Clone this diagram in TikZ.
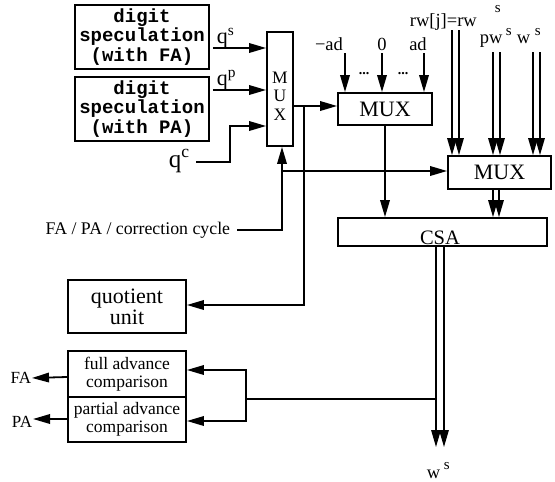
\documentclass[tikz,border=0pt]{standalone}
\usepackage{fontspec}
\setmainfont{Liberation Serif}
\newfontfamily\monof{Liberation Mono}
\usetikzlibrary{arrows.meta}
\begin{document}
\begin{tikzpicture}[x=1pt,y=-1pt,line width=1.8pt,
  arr/.style={-{Triangle[length=17pt,width=9.5pt]}},
  darr/.style={line width=1.5pt,-{Triangle[length=17pt,width=9.5pt]}},
  blk/.style={draw,line width=1.8pt,inner sep=0pt,align=center},
  dsbox/.style={blk,minimum width=134pt,minimum height=64pt,
     font=\monof\bfseries\fontsize{19}{19.5}\selectfont},
  muxbox/.style={blk,font=\fontsize{22}{22}\selectfont},
  lbl/.style={inner sep=0pt,font=\fontsize{18.5}{18.5}\selectfont},
  sup/.style={inner sep=0pt,anchor=base west,font=\fontsize{15}{15}\selectfont},
  cmpbox/.style={blk,minimum width=118pt,minimum height=46pt,
     font=\fontsize{17.5}{18}\selectfont}
]
\useasboundingbox (0,0) rectangle (555,482);
% blocks
\node[dsbox] (ds1) at (142,37) {digit\\speculation\\(with FA)};
\node[dsbox] (ds2) at (142,109) {digit\\speculation\\(with PA)};
\node[blk,minimum width=26pt,minimum height=114pt] (mux1) at (280,89) {};
\node[lbl,align=center,font=\fontsize{17.5}{18.5}\selectfont] (muxt) at (280,96) {M\\U\\X};
\node[muxbox,minimum width=94pt,minimum height=32pt] (mux2) at (385,109) {MUX};
\node[muxbox,minimum width=103pt,minimum height=33pt] (mux3) at (499.5,172.5) {MUX};
\node[blk,minimum width=209pt,minimum height=28pt] (csa) at (442.5,232) {};
\node[lbl,anchor=base,font=\fontsize{20.5}{20.5}\selectfont] (csat) at (440,244) {CSA};
\node[blk,minimum width=118pt,minimum height=53pt,font=\fontsize{22}{21}\selectfont] (qu) at (127,306.5) {quotient\\unit};
\node[cmpbox] (fa) at (127,374) {full advance\\comparison};
\node[cmpbox,minimum height=45pt] (pa) at (127,419.5) {partial advance\\comparison};
% labels
\node[lbl,anchor=base west,font=\fontsize{22}{22}\selectfont] (lqs) at (216,43) {q\textsuperscript{s}};
\node[lbl,anchor=base west,font=\fontsize{22}{22}\selectfont] (lqp) at (216,85) {q\textsuperscript{p}};
\node[lbl,anchor=base west,font=\fontsize{25}{25}\selectfont] (lqc) at (168,167) {q\textsuperscript{c}};
\node[lbl,anchor=east,font=\fontsize{17.8}{17.8}\selectfont] (lctl) at (231,230) {FA / PA / correction cycle};
\node[lbl,anchor=base] (lmad) at (329,50) {−ad};
\node[lbl,anchor=base] (lzero) at (382,50) {0};
\node[lbl,anchor=base] (lad) at (418,50) {ad};
\node[lbl,font=\bfseries\fontsize{14}{14}\selectfont] (dots1) at (364,74) {...};
\node[lbl,font=\bfseries\fontsize{14}{14}\selectfont] (dots2) at (403,74) {...};
\node[lbl,anchor=base west] (lrw) at (409,26) {rw[j]=rw};
\node[sup] (lrws) at (494,12) {s};
\node[lbl,anchor=base west] (lpw) at (479,43) {pw};
\node[sup] (lpws) at (505,35) {s};
\node[lbl,anchor=base west] (lw) at (516,43) {w};
\node[sup] (lws) at (534,35) {s};
\node[lbl,anchor=base west] (lwo) at (426,478) {w};
\node[sup] (lwos) at (443,469) {s};
\node[lbl,anchor=east,font=\fontsize{17}{17}\selectfont] (lfa) at (32,378) {FA};
\node[lbl,anchor=east,font=\fontsize{17}{17}\selectfont] (lpa) at (33,422) {PA};
% free ends
\coordinate (qcS) at (196,162);
\coordinate (ctlS) at (237,230);
\coordinate (fork) at (304,106);
\coordinate (fb) at (246,399);
% connectors into MUX1
\draw[arr] ([xshift=3pt]ds1.east |- 0,48) -- (mux1.west |- 0,48);
\draw[arr] ([xshift=3pt]ds2.east |- 0,90) -- (mux1.west |- 0,90);
\draw[arr] (qcS) -| (230,126) -- (mux1.west |- 0,126);
\draw[arr] (ctlS) -| ([xshift=2pt]mux1.south);
\draw[arr] ([xshift=2pt]mux1.south |- 0,171) -- (mux3.west |- 0,171);
% MUX1 output
\draw[arr] (mux1.east |- 0,106) -- (mux2.west |- 0,106);
\draw[arr] (fork) |- (qu.east |- 0,305);
% MUX2 inputs and output
\draw[arr] (345,53) -- (mux2.north -| 345,0);
\draw[arr] (382,53) -- (mux2.north -| 382,0);
\draw[arr] (424,53) -- (mux2.north -| 424,0);
\draw[arr] (mux2.south) -- (mux2.south |- csa.north);
% MUX3 double inputs
\draw[darr] (452,30) -- (mux3.north -| 452,0);
\draw[darr] (459,30) -- (mux3.north -| 459,0);
\draw[darr] (493,52) -- (mux3.north -| 493,0);
\draw[darr] (500,52) -- (mux3.north -| 500,0);
\draw[darr] (533,52) -- (mux3.north -| 533,0);
\draw[darr] (540,52) -- (mux3.north -| 540,0);
% MUX3 to CSA
\draw[darr] (mux3.south -| 493,0) -- (csa.north -| 493,0);
\draw[darr] (mux3.south -| 499,0) -- (csa.north -| 499,0);
% CSA output
\draw[darr] (csa.south -| 436,0) -- (436,447);
\draw[darr] (csa.south -| 444,0) -- (444,447);
% feedback to comparisons
\draw (436,399) -- (fb);
\draw[arr] (fb) |- (fa.east |- 0,370);
\draw[arr] (fb) |- (pa.east |- 0,421);
\draw[arr] (fa.west |- 0,377) -- (lfa.east);
\draw[arr] (pa.west |- 0,419) -- (lpa.east |- 0,419);
\end{tikzpicture}
\end{document}
